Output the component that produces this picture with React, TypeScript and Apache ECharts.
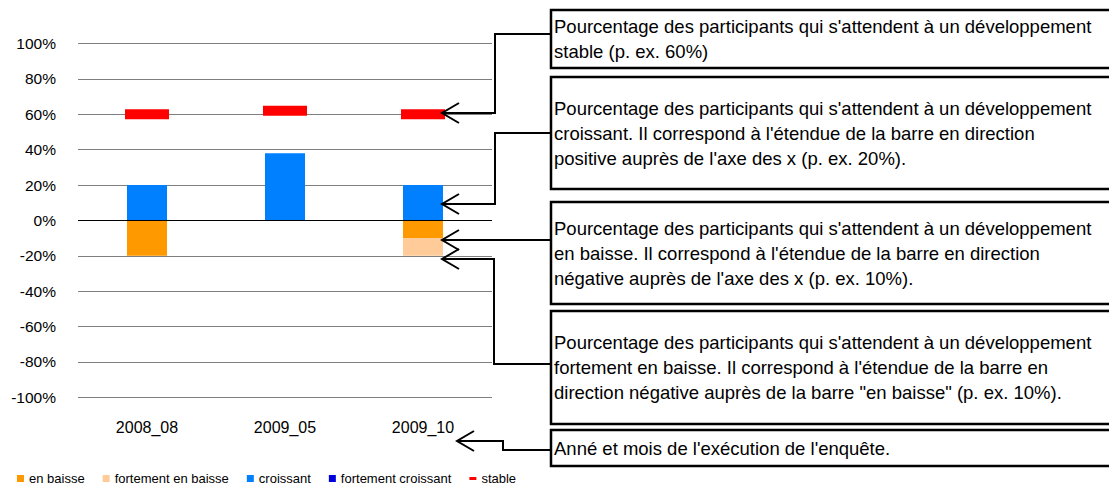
import React, { useEffect, useRef } from "react";
import * as echarts from "echarts";

const categories = ["2008_08", "2009_05", "2009_10"];
const enBaisse = [-20, 0, -10];
const fortementEnBaisse = [0, 0, -10];
const croissant = [20, 38, 20];
const fortementCroissant = [0, 0, 0];
const stable = [60, 62, 60];
const yMin = -100;
const yMax = 100;
const yInterval = 20;

const boxTexts = [
  "Pourcentage des participants qui s'attendent à un développement\nstable (p. ex. 60%)",
  "Pourcentage des participants qui s'attendent à un développement\ncroissant. Il correspond à l'étendue de la barre en direction\npositive auprès de l'axe des x (p. ex. 20%).",
  "Pourcentage des participants qui s'attendent à un développement\nen baisse. Il correspond à l'étendue de la barre en direction\nnégative auprès de l'axe des x (p. ex. 10%).",
  "Pourcentage des participants qui s'attendent à un développement\nfortement en baisse. Il correspond à l'étendue de la barre en\ndirection négative auprès de la barre \"en baisse\" (p. ex. 10%).",
  "Anné et mois de l'exécution de l'enquête.",
];

const FONT = "'Liberation Sans', Arial, sans-serif";

export default function App() {
  const ref = useRef<HTMLDivElement>(null);
  useEffect(() => {
    if (!ref.current) return;
    const chart = echarts.init(ref.current, null, { renderer: "svg" });

    const boxes = [
      [10, 68],
      [77, 189],
      [202, 304],
      [311, 424],
      [430, 466],
    ];
    const boxLeft = 551;
    const graphics: any[] = [];
    boxes.forEach(([t, b], i) => {
      graphics.push({
        type: "rect",
        z: 100,
        shape: { x: boxLeft, y: t, width: 620, height: b - t },
        style: { fill: "#fff", stroke: "#000", lineWidth: 2.5 },
      });
      graphics.push({
        type: "text",
        z: 101,
        x: 554,
        y: (t + b) / 2,
        style: {
          text: boxTexts[i],
          fill: "#000",
          fontSize: 18.5,
          fontFamily: FONT,
          lineHeight: 25,
          verticalAlign: "middle",
          align: "left",
        },
      });
    });

    const connectors = [
      { pts: [[boxLeft, 34], [495, 34], [495, 113], [442, 113]], tip: [442, 113] },
      { pts: [[boxLeft, 133], [495, 133], [495, 204], [442, 204]], tip: [442, 204] },
      { pts: [[boxLeft, 240], [442, 240]], tip: [442, 240] },
      { pts: [[boxLeft, 364], [494, 364], [494, 259], [442, 259]], tip: [442, 259] },
      { pts: [[boxLeft, 450], [503, 450], [503, 441], [457, 441]], tip: [457, 441] },
    ];
    connectors.forEach((c) => {
      graphics.push({
        type: "polyline",
        z: 99,
        shape: { points: c.pts },
        style: { stroke: "#000", lineWidth: 2, fill: null },
      });
      graphics.push({
        type: "polyline",
        z: 99,
        shape: {
          points: [
            [c.tip[0] + 17, c.tip[1] - 10],
            [c.tip[0], c.tip[1]],
            [c.tip[0] + 17, c.tip[1] + 10],
          ],
        },
        style: { stroke: "#000", lineWidth: 2, fill: null },
      });
    });

    const square = "rect";
    chart.setOption({
      animation: false,
      textStyle: { fontFamily: FONT },
      grid: {
        left: 78,
        right: 1109 - 492,
        top: 43.5,
        bottom: 486 - 397.3,
        containLabel: false,
        outerBoundsMode: "none",
      },
      legend: {
        left: 17,
        top: 472,
        padding: 0,
        itemWidth: 7,
        itemHeight: 7,
        itemGap: 18,
        textStyle: { fontSize: 13, color: "#000", fontFamily: FONT },
        data: [
          { name: "en baisse", icon: square },
          { name: "fortement en baisse", icon: square },
          { name: "croissant", icon: square },
          { name: "fortement croissant", icon: square },
          { name: "stable", icon: "path://M0,0h7v3h-7z" },
        ],
      },
      xAxis: {
        type: "category",
        data: categories,
        axisLine: { show: false, onZero: false },
        axisTick: { show: false },
        axisLabel: { fontSize: 16, color: "#000", margin: 22, fontFamily: FONT },
        splitLine: { show: false },
      },
      yAxis: {
        type: "value",
        min: yMin,
        max: yMax,
        interval: yInterval,
        axisLine: { show: false },
        axisTick: { show: false },
        axisLabel: {
          fontSize: 15.5,
          color: "#000",
          margin: 22,
          formatter: "{value}%",
          fontFamily: FONT,
        },
        splitLine: { show: true, lineStyle: { color: "#7f7f7f", width: 1 } },
      },
      series: [
        {
          name: "en baisse",
          type: "bar",
          stack: "total",
          barWidth: 40,
          data: enBaisse,
          itemStyle: { color: "#FF9900" },
        },
        {
          name: "fortement en baisse",
          type: "bar",
          stack: "total",
          barWidth: 40,
          data: fortementEnBaisse,
          itemStyle: { color: "#FFCC99" },
        },
        {
          name: "croissant",
          type: "bar",
          stack: "total",
          barWidth: 40,
          data: croissant,
          itemStyle: { color: "#0080FF" },
          markLine: {
            silent: true,
            symbol: "none",
            label: { show: false },
            lineStyle: { color: "#000", width: 1, type: "solid" },
            data: [{ yAxis: 0 }],
          },
        },
        {
          name: "fortement croissant",
          type: "bar",
          stack: "total",
          barWidth: 40,
          data: fortementCroissant,
          itemStyle: { color: "#0000DD" },
        },
        {
          name: "stable",
          type: "scatter",
          symbol: "rect",
          symbolSize: [44, 10],
          data: stable,
          itemStyle: { color: "#FF0000", opacity: 1 },
          z: 5,
        },
      ],
      graphic: graphics,
    });
    return () => chart.dispose();
  }, []);
  return (
    <div
      ref={ref}
      style={{ position: "fixed", left: 0, top: 0, width: 1109, height: 486, background: "#fff" }}
    />
  );
}
